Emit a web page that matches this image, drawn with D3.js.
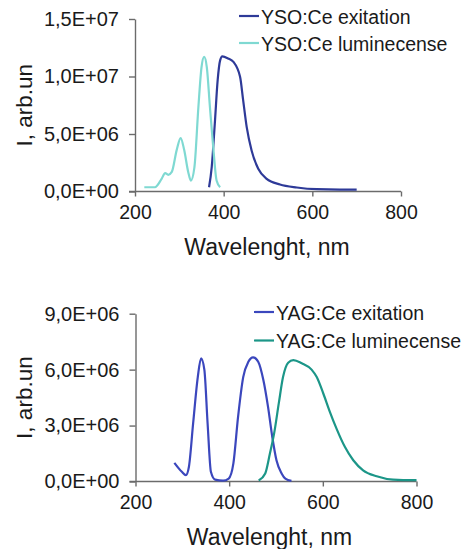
<!DOCTYPE html>
<html>
<head>
<meta charset="utf-8">
<script src="https://cdn.jsdelivr.net/npm/d3@7/dist/d3.min.js"></script>
<style>
  html, body { margin: 0; padding: 0; background: #fff; }
  svg { display: block; font-family: "Liberation Sans", Arial, sans-serif; }
</style>
</head>
<body>
<svg id="chart" width="465" height="549"></svg>
<script>
// Wavelength (nm) and intensity (arb. units) for each spectrum
const ysoExcWl  = [367, 373, 380, 386.5, 392, 397, 410, 422, 437, 444, 452, 463, 478, 497, 527, 565, 610, 662, 700];
const ysoExcI   = [0.37e6, 2.1e6, 5.9e6, 9.7e6, 11.4e6, 11.75e6, 11.57e6, 11.27e6, 9.97e6, 7.93e6, 5.6e6, 3.57e6, 1.98e6, 1.1e6, 0.61e6, 0.35e6, 0.2e6, 0.17e6, 0.17e6];

const ysoLumWl  = [221, 245, 260, 268, 275, 283, 294, 303, 311, 320, 326, 334, 343, 350, 356, 362, 369, 377, 384, 392];
const ysoLumI   = [0.37e6, 0.37e6, 1.1e6, 1.6e6, 1.45e6, 1.7e6, 3.6e6, 4.65e6, 3.6e6, 1.7e6, 0.95e6, 2.1e6, 7.35e6, 10.8e6, 11.7e6, 10.8e6, 7.35e6, 3.6e6, 0.96e6, 0.37e6];

const yagExcWl  = [283, 299, 307.6, 314, 323, 333, 340, 347, 354, 361, 370, 387, 399, 409, 419, 430, 441, 451, 462, 473, 483, 492, 501, 512, 520, 533];
const yagExcI   = [1.0e6, 0.52e6, 0.34e6, 0.78e6, 3.1e6, 5.6e6, 6.6e6, 6.0e6, 3.1e6, 0.52e6, 0.1e6, 0.05e6, 0.16e6, 0.97e6, 3.47e6, 5.6e6, 6.42e6, 6.66e6, 6.42e6, 5.44e6, 4.0e6, 2.4e6, 1.14e6, 0.43e6, 0.15e6, 0.03e6];

const yagLumWl  = [463, 477, 487, 496, 506, 515, 526, 537, 555, 576, 587, 601, 615, 629, 647, 665, 686, 715, 750, 793, 800];
const yagLumI   = [0.05e6, 0.43e6, 1.5e6, 2.58e6, 4.2e6, 5.6e6, 6.37e6, 6.51e6, 6.34e6, 6.0e6, 5.6e6, 4.72e6, 3.74e6, 2.85e6, 1.86e6, 1.14e6, 0.6e6, 0.28e6, 0.1e6, 0.07e6, 0.07e6];

// Axis ticks
const xTicks     = [200, 400, 600, 800];
const ysoYTicks  = [0, 5e6, 10e6, 15e6];
const yagYTicks  = [0, 3e6, 6e6, 9e6];

const ysoNames = ["YSO:Ce exitation", "YSO:Ce luminecense"];
const yagNames = ["YAG:Ce exitation", "YAG:Ce luminecense"];
const xTitle = "Wavelenght, nm";
const yTitle = "I, arb.un";

const svg = d3.select("#chart");

// "1,5E+07" style labels
function sciLabel(v) {
  const [m, e] = v.toExponential(1).split("e");
  const n = parseInt(e, 10);
  const sign = n < 0 ? "-" : "+";
  return m.replace(".", ",") + "E" + sign + String(Math.abs(n)).padStart(2, "0");
}

function zip(wl, vals) { return wl.map((w, i) => ({ w, v: vals[i] })); }

function panel(cfg) {
  const x = d3.scaleLinear().domain([200, 800]).range([cfg.left, cfg.right]);
  const y = d3.scaleLinear().domain([0, cfg.yMax]).range([cfg.bottom, cfg.top]);
  const g = svg.append("g");

  const xAxis = g.append("g")
    .attr("transform", `translate(0,${cfg.bottom})`)
    .call(d3.axisBottom(x).tickValues(xTicks).tickSize(5).tickPadding(9).tickSizeOuter(0));
  const yAxis = g.append("g")
    .attr("transform", `translate(${cfg.left},0)`)
    .call(d3.axisLeft(y).tickValues(cfg.yTicks).tickFormat(sciLabel).tickSize(6).tickPadding(10).tickSizeOuter(0));

  // x axis line reaches left under the origin tick
  xAxis.select(".domain").attr("d", `M${cfg.left - 6},0H${cfg.right}`);

  [xAxis, yAxis].forEach(a => {
    a.selectAll(".domain, .tick line").attr("stroke", "#6b6b6b").attr("stroke-width", 1.4);
    a.selectAll("text").attr("fill", "#1a1a1a");
  });
  xAxis.selectAll("text").attr("font-size", 19.5);
  yAxis.selectAll("text").attr("font-size", 20);

  const line = d3.line().x(d => x(d.w)).y(d => y(d.v)).curve(d3.curveMonotoneX);
  cfg.series.forEach(s => {
    g.append("path")
      .datum(zip(s.wl, s.vals))
      .attr("d", line)
      .attr("fill", "none")
      .attr("stroke", s.color)
      .attr("stroke-width", 2.2)
      .attr("stroke-linejoin", "round");
  });

  // legend
  cfg.series.forEach((s, i) => {
    const ly = cfg.legendY + i * cfg.legendGap;
    g.append("line")
      .attr("x1", cfg.legendX).attr("x2", cfg.legendX + 20)
      .attr("y1", ly).attr("y2", ly)
      .attr("stroke", s.color).attr("stroke-width", 2.2);
    g.append("text")
      .attr("x", cfg.legendX + 22).attr("y", ly + 7.5)
      .attr("font-size", 19.5).attr("fill", "#1a1a1a")
      .text(s.name);
  });

  g.append("text")
    .attr("x", cfg.xTitleX).attr("y", cfg.bottom + 63)
    .attr("text-anchor", "middle").attr("font-size", 23).attr("fill", "#1a1a1a")
    .text(xTitle);
  g.append("text")
    .attr("transform", `translate(32,${(cfg.top + cfg.bottom) / 2}) rotate(-90)`)
    .attr("text-anchor", "middle").attr("font-size", 22.5).attr("fill", "#1a1a1a")
    .text(yTitle);
}

panel({
  left: 135, right: 401, top: 19, bottom: 191.5, yMax: 15e6, yTicks: ysoYTicks,
  legendX: 239, legendY: 16, legendGap: 27, xTitleX: 267,
  series: [
    { name: ysoNames[0], wl: ysoExcWl, vals: ysoExcI, color: "#2e3a98" },
    { name: ysoNames[1], wl: ysoLumWl, vals: ysoLumI, color: "#7fd9d2" }
  ]
});

panel({
  left: 135.5, right: 416.5, top: 313.7, bottom: 481.5, yMax: 9e6, yTicks: yagYTicks,
  legendX: 254, legendY: 312, legendGap: 28.5, xTitleX: 269.5,
  series: [
    { name: yagNames[0], wl: yagExcWl, vals: yagExcI, color: "#3b47bd" },
    { name: yagNames[1], wl: yagLumWl, vals: yagLumI, color: "#1c9688" }
  ]
});
</script>
</body>
</html>
